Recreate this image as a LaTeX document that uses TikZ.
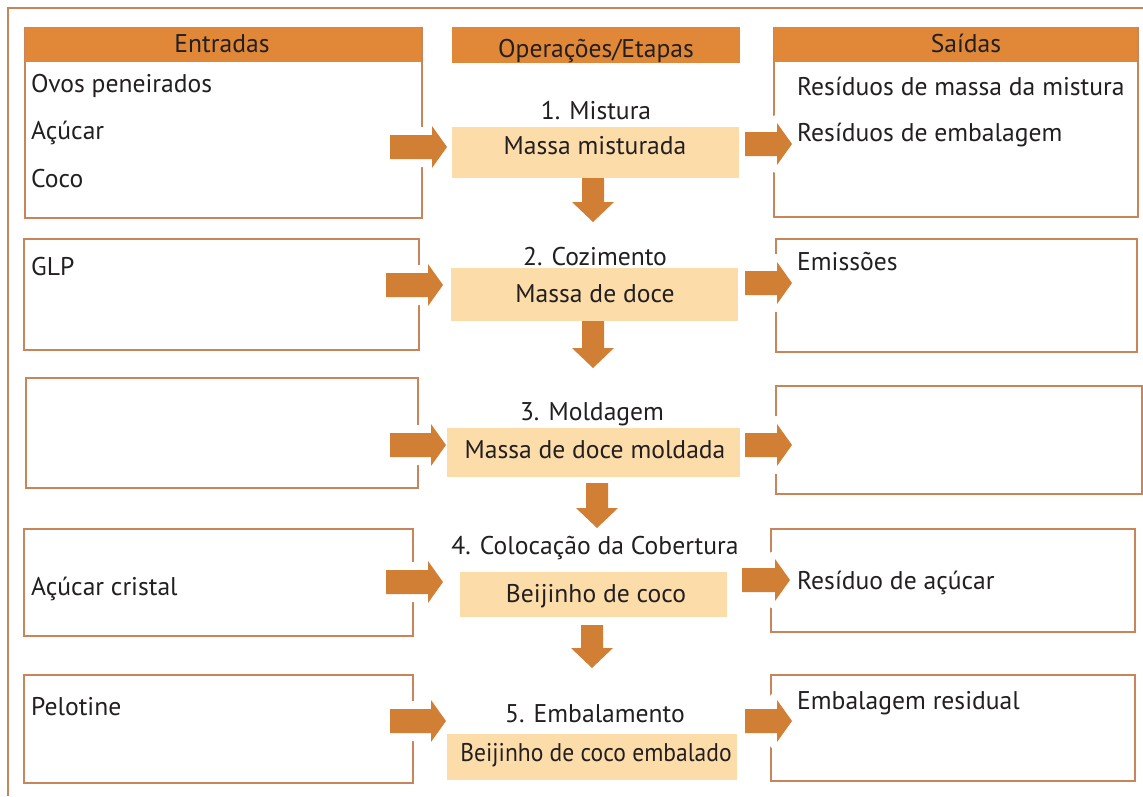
\documentclass[tikz,border=0pt]{standalone}
\usepackage{fontspec}
\setmainfont{PT Sans}
\usetikzlibrary{calc}
\definecolor{framec}{HTML}{C8855A}
\definecolor{headc}{HTML}{E08838}
\definecolor{arrowc}{HTML}{D17F34}
\definecolor{lightc}{HTML}{FCDDAA}
\definecolor{textc}{HTML}{231F20}
\newcommand\blkarrowh[2]{\path[blockarrow] ($(#1)+(0,-12)$) -- ($(#2)+(-15,-12)$) -- ($(#2)+(-15,-21)$) -- (#2) -- ($(#2)+(-15,21)$) -- ($(#2)+(-15,12)$) -- ($(#1)+(0,12)$) -- cycle;}
\newcommand\blkarrowv[2]{\path[blockarrow] ($(#1)+(-11,0)$) -- ($(#2)+(-11,-20)$) -- ($(#2)+(-21,-20)$) -- (#2) -- ($(#2)+(21,-20)$) -- ($(#2)+(11,-20)$) -- ($(#1)+(11,0)$) -- cycle;}
\begin{document}
\begin{tikzpicture}[x=1pt,y=-1pt,
  txt/.style={inner sep=0pt, anchor=base west, text=textc, font=\fontsize{25.6}{30}\selectfont},
  ctxt/.style={txt, anchor=base},
  sidebox/.style={draw=framec, line width=2pt, fill=white, anchor=north west, inner sep=0pt},
  headbox/.style={fill=headc, anchor=north west, inner sep=0pt, minimum height=35pt},
  stepbox/.style={fill=lightc, anchor=north west, inner sep=0pt},
  blockarrow/.style={fill=arrowc, preaction={draw=white, line width=16pt, line join=round}}]
\useasboundingbox (0,0) rectangle (1143,796);
\fill[white] (0,0) rectangle (1143,796);
% outer frame
\draw[framec, line width=2.5pt] (8,796) -- (8,8) -- (1143,8);
% side boxes
\node[sidebox, minimum width=397pt, minimum height=190pt] (in1) at (24,27) {};
\node[sidebox, minimum width=395pt, minimum height=111pt] (in2) at (23,238) {};
\node[sidebox, minimum width=392pt, minimum height=110pt] (in3) at (25,377) {};
\node[sidebox, minimum width=389pt, minimum height=107pt] (in4) at (23,528) {};
\node[sidebox, minimum width=389pt, minimum height=108pt] (in5) at (23,674) {};
\node[sidebox, minimum width=364pt, minimum height=189pt] (out1) at (773,27) {};
\node[sidebox, minimum width=361pt, minimum height=113pt] (out2) at (775,238) {};
\node[sidebox, minimum width=366pt, minimum height=108pt] (out3) at (775,385) {};
\node[sidebox, minimum width=364pt, minimum height=103pt] (out4) at (770,528) {};
\node[sidebox, minimum width=364pt, minimum height=106pt] (out5) at (770,674) {};
% headers
\node[headbox, minimum width=396pt] (hin) at (24.5,27) {};
\node[headbox, minimum width=288pt, minimum height=36pt] (hop) at (452,27) {};
\node[headbox, minimum width=363pt] (hout) at (773.5,27) {};
% arrow coordinates
\coordinate (la1s) at (390,147); \coordinate (la1e) at (447,147);
\coordinate (la2s) at (386,285); \coordinate (la2e) at (443,285);
\coordinate (la3s) at (390,445); \coordinate (la3e) at (446,445);
\coordinate (la4s) at (386,582); \coordinate (la4e) at (443,582);
\coordinate (la5s) at (390,721); \coordinate (la5e) at (446,721);
\coordinate (ra1s) at (745,144); \coordinate (ra1e) at (792,144);
\coordinate (ra2s) at (745,283); \coordinate (ra2e) at (792,283);
\coordinate (ra3s) at (745,445); \coordinate (ra3e) at (792,445);
\coordinate (ra4s) at (742,580); \coordinate (ra4e) at (790,580);
\coordinate (ra5s) at (745,721); \coordinate (ra5e) at (792,721);
\coordinate (da1s) at (593,178); \coordinate (da1e) at (593,222);
\coordinate (da2s) at (593,321); \coordinate (da2e) at (593,368);
\coordinate (da3s) at (597,483); \coordinate (da3e) at (597,528);
\coordinate (da4s) at (592,625); \coordinate (da4e) at (592,668);
\blkarrowh{la1s}{la1e}\blkarrowh{la2s}{la2e}\blkarrowh{la3s}{la3e}\blkarrowh{la4s}{la4e}\blkarrowh{la5s}{la5e}
\blkarrowh{ra1s}{ra1e}\blkarrowh{ra2s}{ra2e}\blkarrowh{ra3s}{ra3e}\blkarrowh{ra4s}{ra4e}\blkarrowh{ra5s}{ra5e}
\blkarrowv{da1s}{da1e}\blkarrowv{da2s}{da2e}\blkarrowv{da3s}{da3e}\blkarrowv{da4s}{da4e}
% step boxes
\node[stepbox, minimum width=287pt, minimum height=51pt] (s1) at (452,127) {};
\node[stepbox, minimum width=287pt, minimum height=53pt] (s2) at (451,268) {};
\node[stepbox, minimum width=293pt, minimum height=49pt] (s3) at (447,428) {};
\node[stepbox, minimum width=267pt, minimum height=45pt] (s4) at (460,572) {};
\node[stepbox, minimum width=290pt, minimum height=46pt] (s5) at (447,734) {};
% header texts
\node[ctxt] (thin) at (222,52) {Entradas};
\node[ctxt] (thop) at (596,57) {Operações/Etapas};
\node[ctxt] (thout) at (966,52) {Saídas};
% input texts
\node[txt] (i1a) at (31,92) {Ovos peneirados};
\node[txt] (i1b) at (31,139) {Açúcar};
\node[txt] (i1c) at (31,187) {Coco};
\node[txt] (i2) at (31,275) {GLP};
\node[txt] (i4) at (31,595) {Açúcar cristal};
\node[txt] (i5) at (31,715) {Pelotine};
% output texts
\node[txt] (o1a) at (797,95) {Resíduos de massa da mistura};
\node[txt] (o1b) at (797,141) {Resíduos de embalagem};
\node[txt] (o2) at (797,270) {Emissões};
\node[txt] (o4) at (797,589) {Resíduo de açúcar};
\node[txt] (o5) at (797,709) {Embalagem residual};
% step texts
\node[ctxt] (t1) at (596,119) {1. Mistura};
\node[ctxt] (p1) at (595,154) {Massa misturada};
\node[ctxt] (t2) at (595,265) {2. Cozimento};
\node[ctxt] (p2) at (595,302) {Massa de doce};
\node[ctxt] (t3) at (592,420) {3. Moldagem};
\node[ctxt] (p3) at (595,458) {Massa de doce moldada};
\node[ctxt] (t4) at (595,554) {4. Colocação da Cobertura};
\node[ctxt] (p4) at (596,602) {Beijinho de coco};
\node[ctxt] (t5) at (595,722) {5. Embalamento};
\node[ctxt] (p5) at (596,761) {\scalebox{0.92}[1]{Beijinho de coco embalado}};
\end{tikzpicture}
\end{document}
